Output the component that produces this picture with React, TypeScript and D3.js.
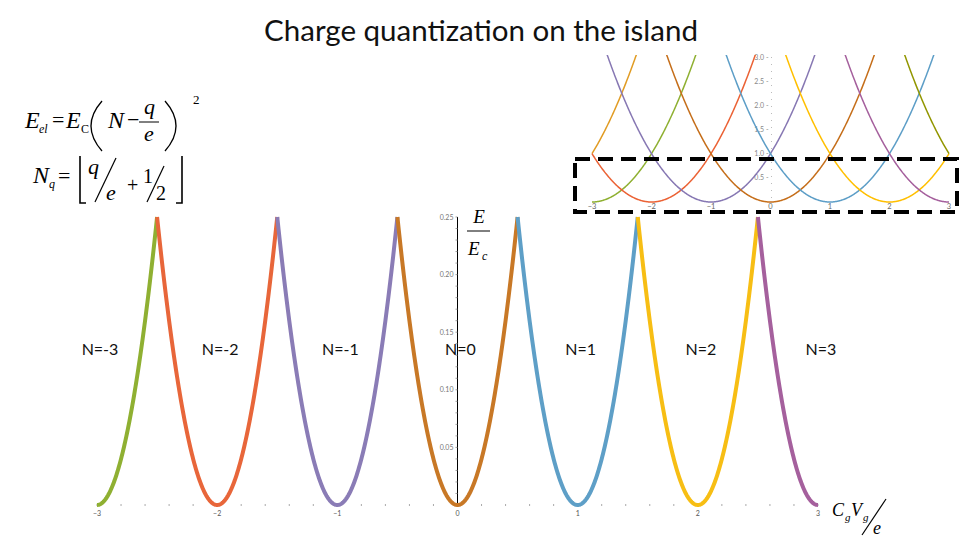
import { useEffect, useRef } from 'react';
import * as d3 from 'd3';

// charge states drawn in the main plot (one parabola branch each)
const charges = [-3, -2, -1, 0, 1, 2, 3];
const chargeLabels = ['N=-3', 'N=-2', 'N=-1', 'N=0', 'N=1', 'N=2', 'N=3'];
const chargeColors = ['#8FB032', '#E8663A', '#8A7CB6', '#C87826', '#5E9FC7', '#F7BE14', '#A5609D'];

// charge states drawn in the inset (full parabolas)
const insetCharges = [-4, -3, -2, -1, 0, 1, 2, 3, 4];
const insetColors = ['#E19C24', '#8FB032', '#EB6235', '#8778B3', '#C56E1A', '#5D9EC7', '#FFBF00', '#A5609D', '#929600'];

const xTicks = [-3, -2, -1, 0, 1, 2, 3];
const yTicks = [0.05, 0.1, 0.15, 0.2, 0.25];
const insetYTicks = [0.5, 1, 1.5, 2, 2.5, 3];

// E_el / E_C = (N - q/e)^2
const energy = (n: number, g: number) => (n - g) * (n - g);

const W = 960;
const H = 540;

export default function App() {
  const svgRef = useRef<SVGSVGElement>(null);

  useEffect(() => {
    if (!svgRef.current) return;
    const svg = d3.select(svgRef.current);
    svg.selectAll('*').remove();

    const serif = "'Liberation Serif', 'DejaVu Serif', serif";
    const sans = "Lato, 'Open Sans', sans-serif";

    // Title
    svg.append('text')
      .attr('x', 264)
      .attr('y', 41)
      .attr('textLength', 434)
      .attr('lengthAdjust', 'spacingAndGlyphs')
      .style('font-family', sans)
      .style('font-size', '29px')
      .style('fill', '#111')
      .text('Charge quantization on the island');

    // ---------- Main plot ----------
    const x = d3.scaleLinear().domain([-3, 3]).range([97, 818]);
    const y = d3.scaleLinear().domain([0, 0.25]).range([505, 217]);

    const g = svg.append('g');

    // minor x ticks (dots)
    g.selectAll('.xminor')
      .data(d3.range(-30, 31, 2).map(v => v / 10))
      .enter().append('line')
      .attr('x1', d => x(d)).attr('x2', d => x(d))
      .attr('y1', y(0) - 1).attr('y2', y(0) + 1)
      .attr('stroke', '#aaa')
      .attr('stroke-width', 1);

    g.selectAll('.xlab')
      .data(xTicks)
      .enter().append('text')
      .attr('x', d => x(d))
      .attr('y', y(0) + 11)
      .attr('text-anchor', 'middle')
      .style('font-family', sans)
      .style('font-size', '7px')
      .style('fill', '#555')
      .text(d => (d < 0 ? '\u2212' + Math.abs(d) : String(d)));

    // y axis
    g.append('line')
      .attr('x1', x(0)).attr('x2', x(0))
      .attr('y1', y(0.25)).attr('y2', y(0))
      .attr('stroke', '#000')
      .attr('stroke-width', 1);

    g.selectAll('.yminor')
      .data(d3.range(1, 26).map(v => v / 100))
      .enter().append('line')
      .attr('x1', x(0) - 2).attr('x2', x(0))
      .attr('y1', d => y(d)).attr('y2', d => y(d))
      .attr('stroke', '#888')
      .attr('stroke-width', 0.8);

    g.selectAll('.ylab')
      .data(yTicks)
      .enter().append('text')
      .attr('x', x(0) - 4)
      .attr('y', d => y(d) + 2.5)
      .attr('text-anchor', 'end')
      .style('font-family', sans)
      .style('font-size', '7px')
      .style('fill', '#777')
      .text(d => d.toFixed(2));

    // parabola branches
    const line = d3.line<[number, number]>()
      .x(d => x(d[0]))
      .y(d => y(d[1]));

    charges.forEach((n, i) => {
      const lo = Math.max(-3, n - 0.5);
      const hi = Math.min(3, n + 0.5);
      const pts: [number, number][] = d3.range(lo, hi + 1e-9, 0.005).map(v => [v, energy(n, v)]);
      g.append('path')
        .datum(pts)
        .attr('fill', 'none')
        .attr('stroke', chargeColors[i])
        .attr('stroke-width', 4)
        .attr('stroke-linejoin', 'round')
        .attr('d', line);
    });

    // N labels
    g.selectAll('.nlab')
      .data(charges)
      .enter().append('text')
      .attr('x', d => x(d) + 3)
      .attr('y', y(0.13))
      .attr('text-anchor', 'middle')
      .style('font-family', sans)
      .style('font-size', '16px')
      .style('fill', '#111')
      .text((d, i) => chargeLabels[i]);

    // y label  E / E_c
    const yl = g.append('g').style('font-family', serif).style('font-style', 'italic');
    yl.append('text').attr('x', 479).attr('y', 223).attr('text-anchor', 'middle')
      .style('font-size', '19px').text('E');
    yl.append('line').attr('x1', 467).attr('x2', 490).attr('y1', 231).attr('y2', 231)
      .attr('stroke', '#000').attr('stroke-width', 1);
    yl.append('text').attr('x', 468).attr('y', 255).style('font-size', '19px').text('E');
    yl.append('text').attr('x', 482).attr('y', 260).style('font-size', '12px').text('c');

    // x label  C_g V_g / e
    const xl = g.append('g').style('font-family', serif).style('font-style', 'italic');
    xl.append('text').attr('x', 832).attr('y', 516).style('font-size', '18px').text('C');
    xl.append('text').attr('x', 845).attr('y', 521).style('font-size', '11px').text('g');
    xl.append('text').attr('x', 851).attr('y', 516).style('font-size', '18px').text('V');
    xl.append('text').attr('x', 863).attr('y', 521).style('font-size', '11px').text('g');
    xl.append('line').attr('x1', 862).attr('y1', 535).attr('x2', 886).attr('y2', 499)
      .attr('stroke', '#000').attr('stroke-width', 1.2);
    xl.append('text').attr('x', 873).attr('y', 534).style('font-size', '18px').text('e');

    // ---------- Formulas ----------
    const f = svg.append('g').style('font-family', serif).style('fill', '#000');
    const it = (tx: number, ty: number, s: number, t: string, italic = true) =>
      f.append('text').attr('x', tx).attr('y', ty)
        .style('font-size', s + 'px')
        .style('font-style', italic ? 'italic' : 'normal')
        .text(t);
    const stroke = (d: string, w = 1.3) =>
      f.append('path').attr('d', d)
        .attr('fill', 'none').attr('stroke', '#000').attr('stroke-width', w);

    // E_el = E_C (N - q/e)^2
    it(25, 128, 24, 'E');
    it(39, 133, 12, 'el');
    it(52, 127, 22, '=', false);
    it(66, 128, 24, 'E');
    it(81, 133, 12, 'C', false);
    stroke('M102,101 Q80,126 102,151');
    it(108, 128, 24, 'N');
    it(127, 127, 22, '\u2212', false);
    it(144, 114, 22, 'q');
    f.append('line').attr('x1', 139).attr('x2', 159).attr('y1', 122).attr('y2', 122)
      .attr('stroke', '#000').attr('stroke-width', 1);
    it(144, 141, 22, 'e');
    stroke('M165,101 Q187,126 165,151');
    it(193, 104, 13, '2', false);

    // N_q = floor(q/e + 1/2)
    it(33, 183, 24, 'N');
    it(49, 188, 12, 'q');
    it(58, 183, 22, '=', false);
    stroke('M80,156 L80,203 L86,203', 1.6);
    stroke('M176,203 L182,203 L182,156', 1.6);
    it(88, 174, 22, 'q');
    f.append('line').attr('x1', 95).attr('y1', 202).attr('x2', 116).attr('y2', 158)
      .attr('stroke', '#000').attr('stroke-width', 1.2);
    it(106, 200, 22, 'e');
    it(127, 192, 20, '+', false);
    it(143, 183, 20, '1', false);
    f.append('line').attr('x1', 147).attr('y1', 202).attr('x2', 164).attr('y2', 166)
      .attr('stroke', '#000').attr('stroke-width', 1.2);
    it(156, 200, 20, '2', false);

    // ---------- Inset ----------
    const xi = d3.scaleLinear().domain([-3, 3]).range([592, 949]);
    const yi = d3.scaleLinear().domain([0, 3]).range([202, 57]);

    const ins = svg.append('g');
    svg.append('defs').append('clipPath').attr('id', 'insetClip')
      .append('rect').attr('x', 590).attr('y', 55).attr('width', 362).attr('height', 152);

    // y axis (dotted) with labels
    ins.append('line')
      .attr('x1', xi(0) + 1).attr('x2', xi(0) + 1)
      .attr('y1', yi(3)).attr('y2', yi(0))
      .attr('stroke', '#bbb').attr('stroke-width', 1)
      .attr('stroke-dasharray', '1 6');

    ins.selectAll('.iyl')
      .data(insetYTicks)
      .enter().append('text')
      .attr('x', xi(0) - 2)
      .attr('y', d => yi(d) + 2.5)
      .attr('text-anchor', 'end')
      .style('font-family', sans)
      .style('font-size', '7px')
      .style('fill', '#888')
      .text(d => d.toFixed(1) + ' -');

    ins.selectAll('.ixl')
      .data(xTicks)
      .enter().append('text')
      .attr('x', d => xi(d))
      .attr('y', 209)
      .attr('text-anchor', 'middle')
      .style('font-family', sans)
      .style('font-size', '7.5px')
      .style('fill', '#666')
      .text(d => (d < 0 ? '\u2212' + Math.abs(d) : String(d)));

    const iline = d3.line<[number, number]>()
      .x(d => xi(d[0]))
      .y(d => yi(d[1]));

    const curves = ins.append('g').attr('clip-path', 'url(#insetClip)');
    insetCharges.forEach((n, i) => {
      const pts: [number, number][] = d3.range(-3, 3 + 1e-9, 0.01).map(v => [v, energy(n, v)]);
      curves.append('path')
        .datum(pts)
        .attr('fill', 'none')
        .attr('stroke', insetColors[i])
        .attr('stroke-width', 1.5)
        .attr('d', iline);
    });

    // dashed highlight box
    svg.append('rect')
      .attr('x', 575).attr('y', 159)
      .attr('width', 382).attr('height', 53)
      .attr('fill', 'none')
      .attr('stroke', '#000')
      .attr('stroke-width', 4)
      .attr('stroke-dasharray', '15 8');
  }, []);

  return (
    <svg
      ref={svgRef}
      width={W}
      height={H}
      style={{ position: 'absolute', left: 0, top: 0, background: '#fff' }}
    />
  );
}
